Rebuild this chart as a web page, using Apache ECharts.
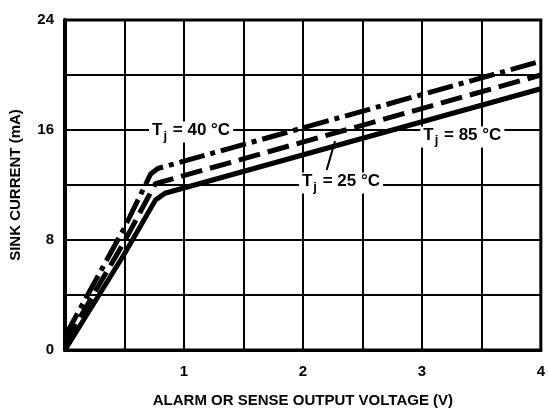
<!DOCTYPE html>
<html>
<head>
<meta charset="utf-8">
<script src="https://cdn.jsdelivr.net/npm/echarts@6/dist/echarts.min.js"></script>
<style>
html,body{margin:0;padding:0;background:#fff;}
#chart{width:548px;height:416px;}
</style>
</head>
<body>
<div id="chart"></div>
<script>
// ---- data ----
const xTickLabels = [1, 2, 3, 4];
const yTickLabels = [0, 8, 16, 24];

const voltageM40 = [0, 0.5, 0.72, 0.78, 4];
const currentM40 = [1.0, 8.9, 12.8, 13.2, 21.0];

const voltage25 = [0, 0.5, 0.76, 4];
const current25 = [0.5, 7.9, 12.1, 20.0];

const voltage85 = [0, 0.5, 0.76, 0.84, 4];
const current85 = [0, 7.0, 10.9, 11.4, 19.0];

const labelM40 = ['T', 'j', ' = 40 °C'];
const label25 = ['T', 'j', ' = 25 °C'];
const label85 = ['T', 'j', ' = 85 °C'];

// ---- build ----
const FONT = '"Liberation Sans", Arial, sans-serif';
function zip(xs, ys) { return xs.map((x, i) => [x, ys[i]]); }
function richText(parts) { return '{t|' + parts[0] + '}{s|' + parts[1] + '}{t|' + parts[2] + '}'; }
const rich = {
  t: { fontFamily: FONT, fontSize: 17, fontWeight: 'bold', color: '#000', opacity: 1, verticalAlign: 'bottom', padding: [0, 0, 4, 0] },
  s: { fontFamily: FONT, fontSize: 13, fontWeight: 'bold', color: '#000', opacity: 1, verticalAlign: 'bottom', padding: [0, 1, 0, 1] }
};
function note(parts, coord) {
  return {
    value: coord,
    label: { show: true, position: 'inside', formatter: richText(parts), rich: rich,
      color: '#000', opacity: 1, backgroundColor: '#fff', padding: [0, 3, 0, 3] }
  };
}

const chart = echarts.init(document.getElementById('chart'), null, { renderer: 'canvas' });
chart.setOption({
  backgroundColor: '#fff',
  animation: false,
  grid: { left: 63, right: 4, top: 20, bottom: 66, show: true, borderColor: '#000', borderWidth: 3 },
  xAxis: {
    type: 'value', min: 0, max: 4, interval: 0.5,
    name: 'ALARM OR SENSE OUTPUT VOLTAGE (V)', nameLocation: 'middle', nameGap: 43,
    nameTextStyle: { fontFamily: FONT, fontSize: 15, fontWeight: 'bold', color: '#000' },
    axisLine: { show: true, lineStyle: { color: '#000', width: 3 } },
    axisTick: { show: false },
    axisLabel: { margin: 14, fontFamily: FONT, fontSize: 15, fontWeight: 'bold', color: '#000',
      formatter: v => xTickLabels.indexOf(v) >= 0 ? String(v) : '' },
    splitLine: { show: true, lineStyle: { color: '#000', width: 2 } }
  },
  yAxis: {
    type: 'value', min: 0, max: 24, interval: 4,
    name: 'SINK CURRENT (mA)', nameLocation: 'middle', nameGap: 42, nameRotate: 90,
    nameTextStyle: { fontFamily: FONT, fontSize: 15, fontWeight: 'bold', color: '#000' },
    axisLine: { show: true, lineStyle: { color: '#000', width: 4 } },
    axisTick: { show: false },
    axisLabel: { margin: 11, fontFamily: FONT, fontSize: 15, fontWeight: 'bold', color: '#000',
      formatter: v => yTickLabels.indexOf(v) >= 0 ? String(v) : '' },
    splitLine: { show: true, lineStyle: { color: '#000', width: 2 } }
  },
  series: [
    {
      name: 'Tj = 40 °C', type: 'line', data: zip(voltageM40, currentM40), showSymbol: false,
      lineStyle: { color: '#000', width: 5, type: [26, 6, 5, 6], cap: 'butt' }, z: 3
    },
    {
      name: 'Tj = 25 °C', type: 'line', data: zip(voltage25, current25), showSymbol: false,
      lineStyle: { color: '#000', width: 5, type: [22, 8], cap: 'butt' }, z: 3,
      markLine: { symbol: 'none', silent: true, label: { show: false },
        lineStyle: { color: '#000', width: 2, type: 'solid', opacity: 1 },
        data: [[{ coord: [2.2, 13.1] }, { coord: [2.27, 15.2] }]] }
    },
    {
      name: 'Tj = 85 °C', type: 'line', data: zip(voltage85, current85), showSymbol: false,
      lineStyle: { color: '#000', width: 5, type: 'solid', cap: 'butt' }, z: 3
    },
    {
      name: 'labels', type: 'scatter', symbolSize: 0, z: 10, zlevel: 1, silent: true,
      itemStyle: { color: '#000', opacity: 1 },
      data: [note(labelM40, [1.06, 15.85]), note(label25, [2.32, 12.15]), note(label85, [3.34, 15.5])]
    }
  ]
});
</script>
</body>
</html>
